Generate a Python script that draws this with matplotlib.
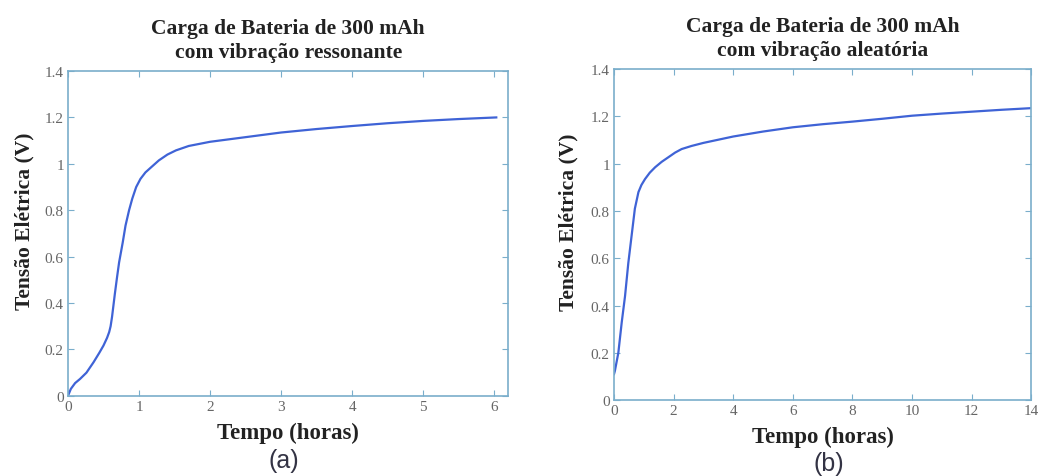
import matplotlib.pyplot as plt

# curva (a): vibração ressonante
tempo_a = [0.0, 0.04, 0.1, 0.17, 0.26, 0.36, 0.44, 0.5, 0.55, 0.58, 0.6, 0.62, 0.64, 0.66,
           0.69, 0.72, 0.77, 0.81, 0.86, 0.905, 0.96, 1.02, 1.09, 1.17, 1.28, 1.4, 1.52,
           1.7, 2.0, 2.5, 3.0, 3.5, 4.0, 4.5, 5.0, 5.5, 6.03]
tensao_a = [0.0, 0.03, 0.055, 0.073, 0.1, 0.145, 0.185, 0.217, 0.25, 0.275, 0.3, 0.34,
            0.39, 0.44, 0.51, 0.576, 0.66, 0.734, 0.8, 0.85, 0.9, 0.935, 0.963, 0.985,
            1.015, 1.04, 1.058, 1.077, 1.095, 1.115, 1.135, 1.15, 1.163, 1.175, 1.185,
            1.193, 1.2]

# curva (b): vibração aleatória
tempo_b = [0.0, 0.03, 0.145, 0.26, 0.37, 0.48, 0.59, 0.7, 0.82, 0.92, 1.04, 1.2, 1.38,
           1.6, 1.82, 2.05, 2.27, 2.6, 3.0, 4.0, 5.0, 6.0, 7.0, 8.0, 9.0, 10.0, 11.0,
           12.0, 13.0, 14.0]
tensao_b = [0.11, 0.124, 0.2, 0.33, 0.44, 0.58, 0.695, 0.81, 0.88, 0.91, 0.935, 0.962,
            0.985, 1.008, 1.027, 1.047, 1.062, 1.075, 1.088, 1.115, 1.136, 1.154, 1.167,
            1.178, 1.19, 1.203, 1.212, 1.22, 1.228, 1.235]

titulos = ["Carga de Bateria de 300 mAh\ncom vibração ressonante",
           "Carga de Bateria de 300 mAh\ncom vibração aleatória"]
rotulos = ["(a)", "(b)"]
xticks_a = [0, 1, 2, 3, 4, 5, 6]
xticks_b = [0, 2, 4, 6, 8, 10, 12, 14]
yticks = [0, 0.2, 0.4, 0.6, 0.8, 1, 1.2, 1.4]

cor_eixo = "#7aaecb"
cor_linha = "#3f63d6"

fig = plt.figure(figsize=(10.46, 4.77), dpi=100)
ax1 = fig.add_axes([0.065, 0.168, 0.421, 0.681])
ax2 = fig.add_axes([0.587, 0.159, 0.399, 0.694])

dados = [(ax1, tempo_a, tensao_a, (0, 6.2), xticks_a, -0.075),
         (ax2, tempo_b, tensao_b, (0, 14), xticks_b, -0.086)]

for i, (ax, x, y, xlim, xt, ylx) in enumerate(dados):
    ax.plot(x, y, color=cor_linha, linewidth=1.6)
    ax.set_xlim(xlim)
    ax.set_ylim(0, 1.4)
    ax.set_xticks(xt)
    ax.set_yticks(yticks)
    ax.set_yticklabels(["0", "0.2", "0.4", "0.6", "0.8", "1", "1.2", "1.4"])
    for s in ax.spines.values():
        s.set_color(cor_eixo)
        s.set_linewidth(1.2)
    ax.tick_params(direction="in", top=True, right=True, length=4, color=cor_eixo,
                   labelsize=11, labelcolor="#666666", pad=3)
    for lbl in ax.get_xticklabels() + ax.get_yticklabels():
        lbl.set_family("Liberation Serif")
    ax.set_title(titulos[i], fontsize=15.5, fontweight="bold", family="Liberation Serif",
                 color="#222222", pad=10, linespacing=1.3)
    ax.set_xlabel("Tempo (horas)", fontsize=16.5, fontweight="bold",
                  family="Liberation Serif", color="#222222", labelpad=6)
    ax.set_ylabel("Tensão Elétrica (V)", fontsize=15.5, fontweight="bold",
                  family="Liberation Serif", color="#222222")
    ax.yaxis.set_label_coords(ylx, 0.54)

fig.text(0.271, 0.034, rotulos[0], fontsize=18, family="Liberation Sans",
         color="#333344", ha="center", va="center")
fig.text(0.792, 0.028, rotulos[1], fontsize=18, family="Liberation Sans",
         color="#333344", ha="center", va="center")

fig.savefig("out.png", dpi=100)
